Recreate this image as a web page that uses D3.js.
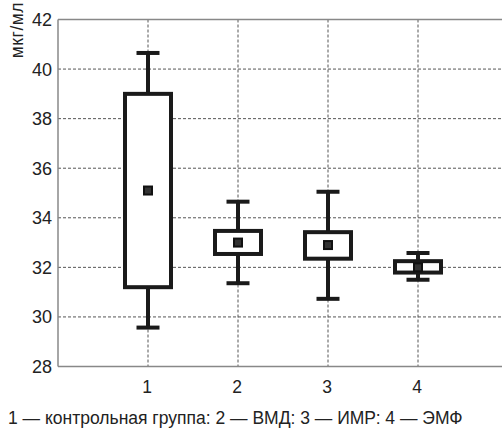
<!DOCTYPE html>
<html>
<head>
<meta charset="utf-8">
<script src="https://cdn.jsdelivr.net/npm/d3@7"></script>
<style>
  body { margin: 0; background: #fff; }
  text { font-family: "Liberation Sans", Arial, sans-serif; fill: #222; }
</style>
</head>
<body>
<div id="chart-area"></div>
<script>
// data
let groups = [1, 2, 3, 4];
let whiskerHigh = [40.65, 34.65, 35.05, 32.58];
let boxHigh = [39.0, 33.47, 33.42, 32.25];
let means = [35.1, 33.0, 32.9, 32.0];
let boxLow = [31.2, 32.54, 32.35, 31.79];
let whiskerLow = [29.57, 31.36, 30.73, 31.5];
let yTicks = [28, 30, 32, 34, 36, 38, 40, 42];
let xTicks = [1, 2, 3, 4];
let yLabel = "мкг/мл";
let caption = "1 — контрольная группа: 2 — ВМД: 3 — ИМР: 4 — ЭМФ";

let W = 502, H = 428;
let margin = {top: 19.5, left: 58, bottom: 61.5};

let svg = d3.select("#chart-area")
    .append("svg")
    .attr("width", W)
    .attr("height", H);

let x = d3.scaleLinear().domain([0, 5]).range([margin.left, margin.left + 450]);
let y = d3.scaleLinear().domain([28, 42]).range([H - margin.bottom, margin.top]);

// grid
svg.append("g").selectAll("line.hg")
    .data(yTicks.filter(d => d > 28 && d < 42))
    .enter().append("line")
    .attr("x1", x(0)).attr("x2", W)
    .attr("y1", d => y(d)).attr("y2", d => y(d))
    .attr("stroke", "#555").attr("stroke-width", 1)
    .attr("stroke-dasharray", "3,2");

svg.append("g").selectAll("line.vg")
    .data(xTicks)
    .enter().append("line")
    .attr("x1", d => x(d)).attr("x2", d => x(d))
    .attr("y1", y(42)).attr("y2", y(28))
    .attr("stroke", "#555").attr("stroke-width", 1)
    .attr("stroke-dasharray", "3,2");

// frame
svg.append("line").attr("x1", x(0)).attr("x2", W).attr("y1", y(42)).attr("y2", y(42))
    .attr("stroke", "#888").attr("stroke-width", 1.5);
svg.append("line").attr("x1", x(0)).attr("x2", W).attr("y1", y(28)).attr("y2", y(28))
    .attr("stroke", "#888").attr("stroke-width", 1.5);
svg.append("line").attr("x1", x(0)).attr("x2", x(0)).attr("y1", y(42)).attr("y2", y(28))
    .attr("stroke", "#888").attr("stroke-width", 1.5);

// tick labels
svg.append("g").selectAll("text")
    .data(yTicks)
    .enter().append("text")
    .attr("x", x(0) - 6)
    .attr("y", d => y(d))
    .attr("dy", "0.36em")
    .attr("text-anchor", "end")
    .style("font-size", "18px")
    .text(d => d);

svg.append("g").selectAll("text")
    .data(xTicks)
    .enter().append("text")
    .attr("x", d => x(d) - 1)
    .attr("y", 393)
    .attr("text-anchor", "middle")
    .style("font-size", "17.5px")
    .text(d => d);

svg.append("text")
    .attr("transform", "translate(23,2) rotate(-90)")
    .attr("text-anchor", "end")
    .style("font-size", "17.5px")
    .style("letter-spacing", "0.5px")
    .text(yLabel);

svg.append("text")
    .attr("x", 8)
    .attr("y", 424)
    .style("font-size", "17.5px")
    .text(caption);

// boxes
let boxW = 46, capW = 23;
let data = groups.map((g, i) => ({
    g: g, hi: whiskerHigh[i], q3: boxHigh[i], m: means[i], q1: boxLow[i], lo: whiskerLow[i]
}));

let box = svg.append("g").selectAll("g")
    .data(data)
    .enter().append("g");

box.append("line")
    .attr("x1", d => x(d.g)).attr("x2", d => x(d.g))
    .attr("y1", d => y(d.hi)).attr("y2", d => y(d.lo))
    .attr("stroke", "#1a1a1a").attr("stroke-width", 4);

box.append("rect")
    .attr("x", d => x(d.g) - boxW / 2)
    .attr("y", d => y(d.q3))
    .attr("width", boxW)
    .attr("height", d => y(d.q1) - y(d.q3))
    .attr("fill", "#fff")
    .attr("stroke", "#1a1a1a").attr("stroke-width", 4);

box.selectAll("line.cap")
    .data(d => [{g: d.g, v: d.hi}, {g: d.g, v: d.lo}])
    .enter().append("line")
    .attr("x1", d => x(d.g) - capW / 2).attr("x2", d => x(d.g) + capW / 2)
    .attr("y1", d => y(d.v)).attr("y2", d => y(d.v))
    .attr("stroke", "#1a1a1a").attr("stroke-width", 4);

box.append("rect")
    .attr("x", d => x(d.g) - 4)
    .attr("y", d => y(d.m) - 4)
    .attr("width", 8).attr("height", 8)
    .attr("fill", "#333")
    .attr("stroke", "#111").attr("stroke-width", 2);
</script>
</body>
</html>
